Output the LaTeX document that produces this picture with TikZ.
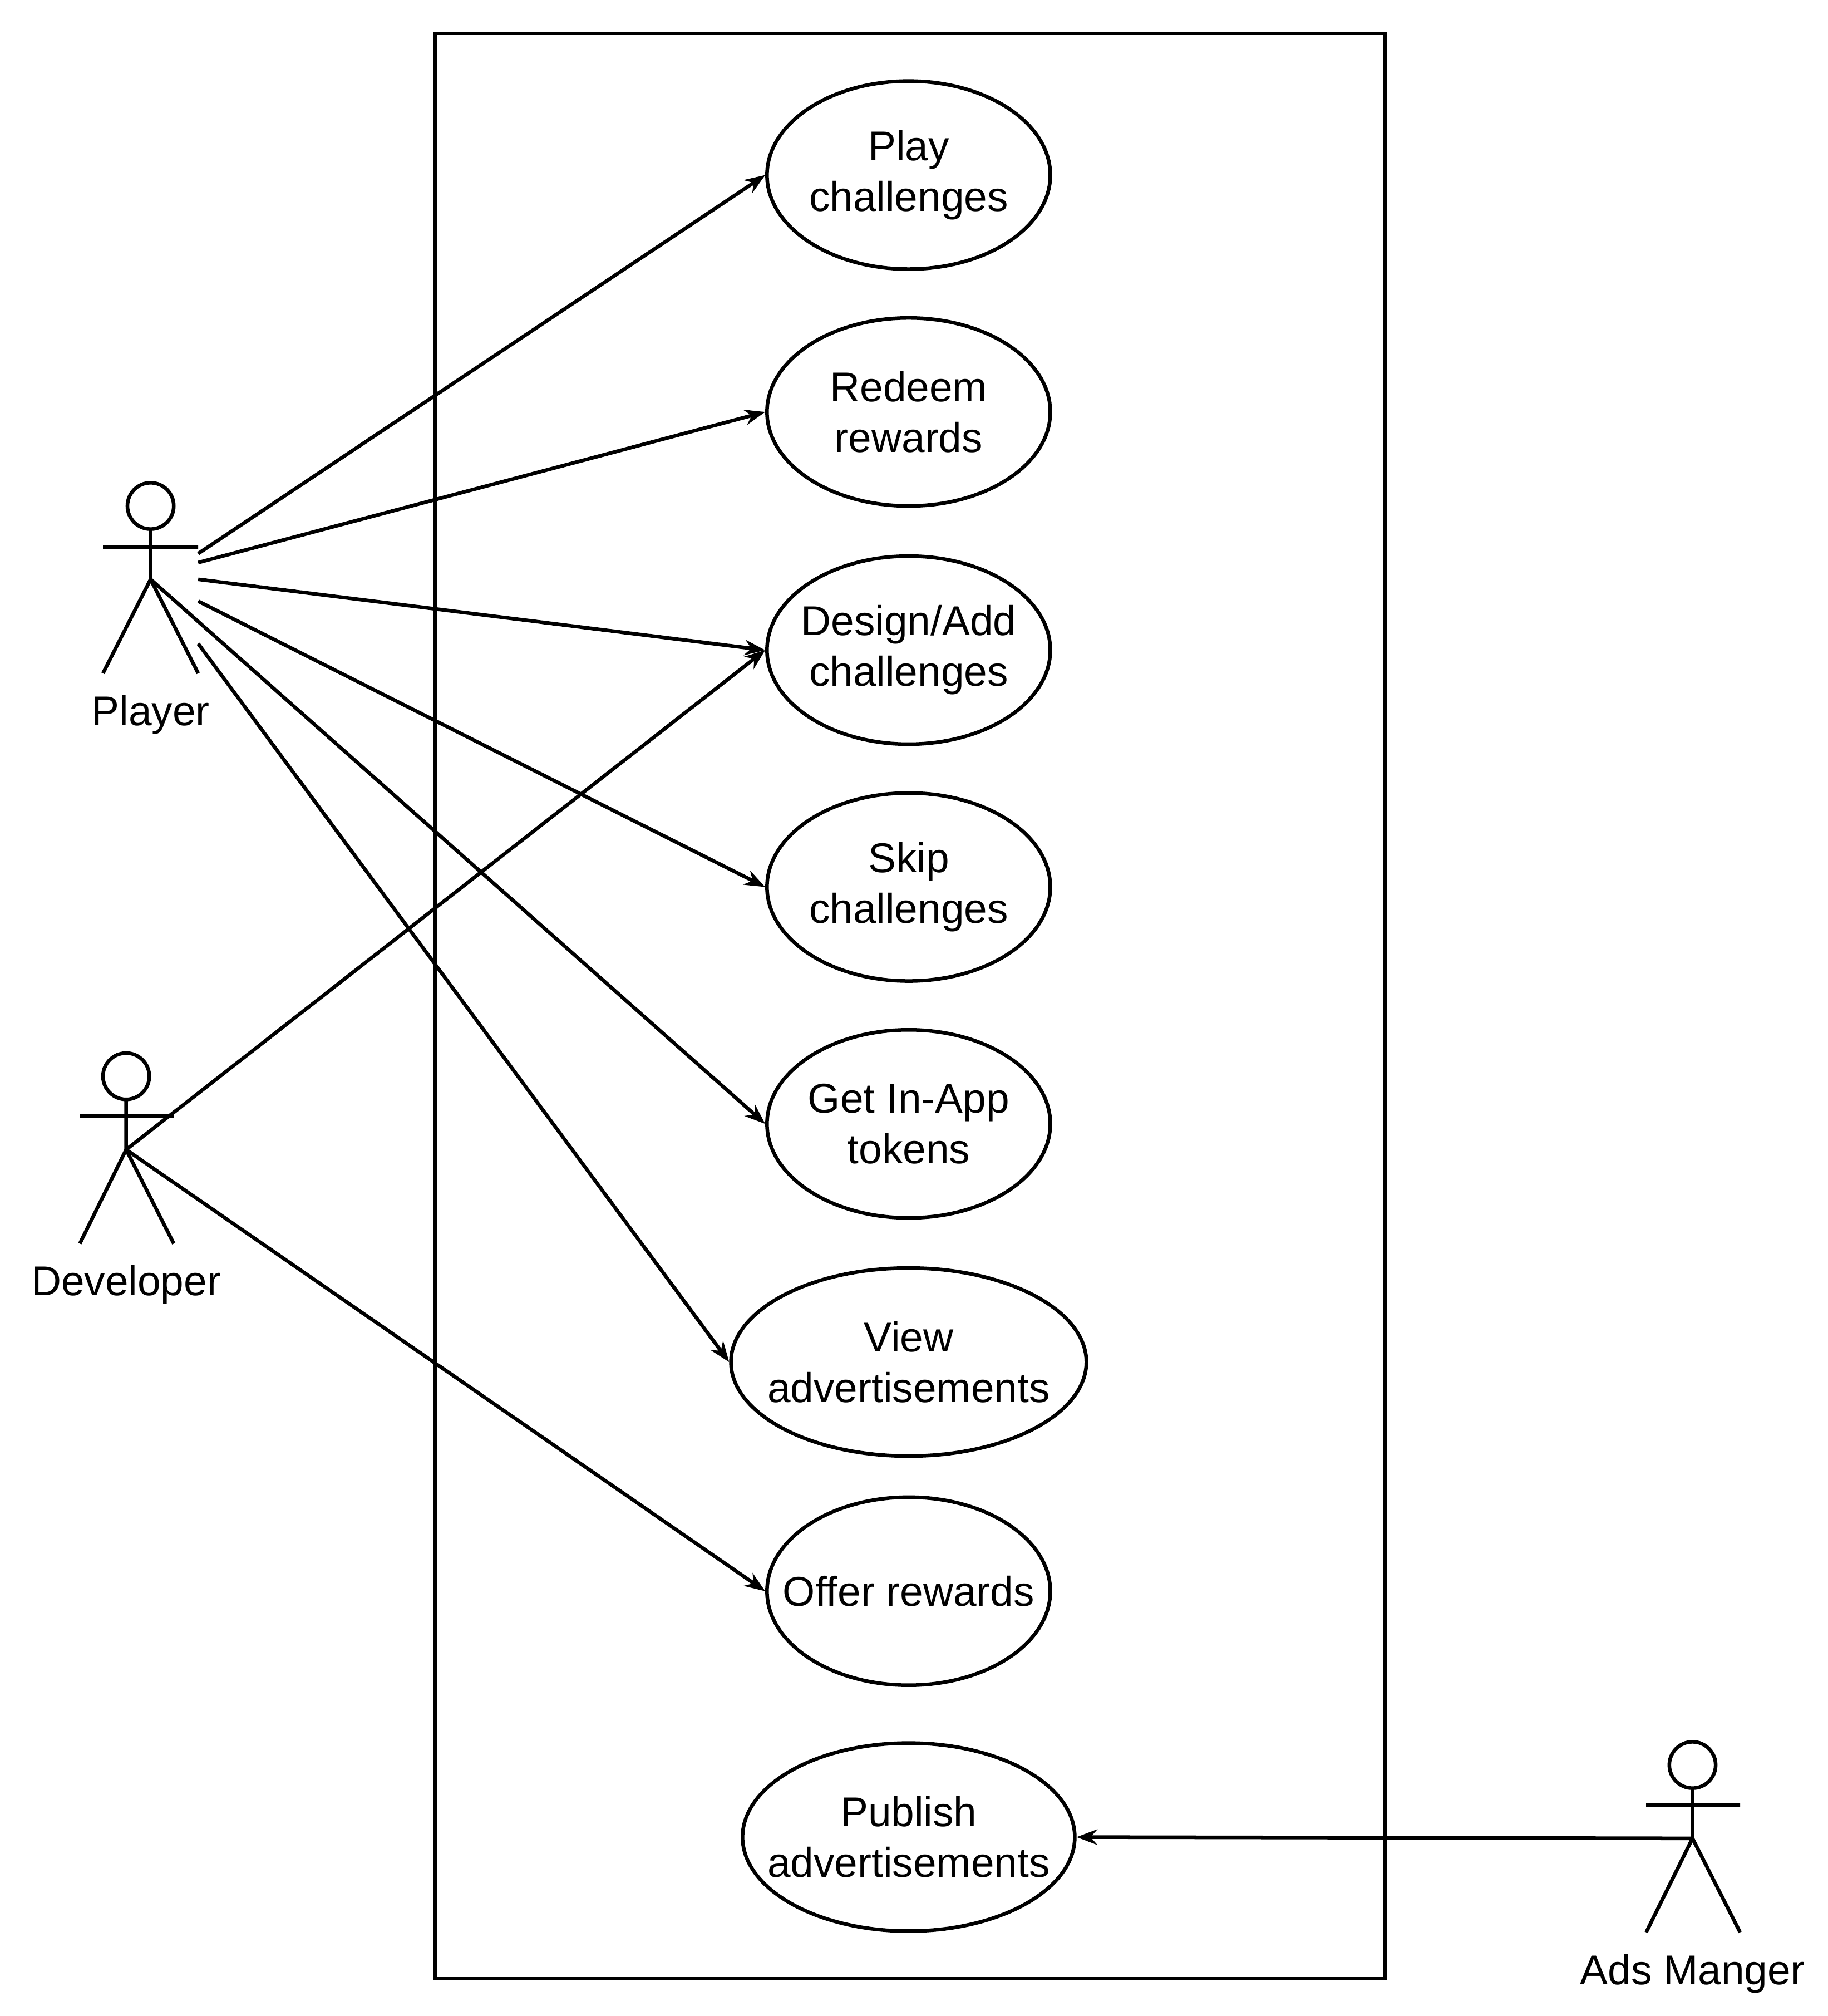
\documentclass[tikz,border=0pt]{standalone}
\usepackage{fontspec}
\setmainfont{Liberation Sans}
\usetikzlibrary{arrows.meta,positioning,shapes.geometric}
\begin{document}
\begin{tikzpicture}[x=0.01cm,y=-0.01cm,
  usecase/.style={ellipse,draw,thick,minimum width=2.2cm,minimum height=1.46cm,inner ysep=0pt,inner xsep=-0.5cm,align=center,font=\fontsize{9.2}{11.2}\selectfont},
  link/.style={-{Stealth[length=0.16cm,width=0.12cm]},thick},
  lbl/.style={font=\fontsize{9.2}{11.2}\selectfont}]
\useasboundingbox (0,0) rectangle (1420,1566);

% System boundary
\draw[thick] (338,26) rectangle (1076,1537);

% Use cases
\node[usecase] (play) at (706,136) {Play\\challenges};
\node[usecase] (redeem) at (706,320) {Redeem\\rewards};
\node[usecase] (design) at (706,505) {Design/Add\\challenges};
\node[usecase] (skip) at (706,689) {Skip\\challenges};
\node[usecase] (tokens) at (706,873) {Get In-App\\tokens};
\node[usecase,minimum width=2.76cm] (view) at (706,1058) {View\\advertisements};
\node[usecase] (offer) at (706,1236) {Offer rewards};
\node[usecase,minimum width=2.58cm] (publish) at (706,1427) {Publish\\advertisements};

% Actors
\draw[thick] (117,393) circle (18) (80,425) -- (154,425) (117,411) -- (117,450) (80,523) -- (117,450) -- (154,523);
\node[lbl] (player) at (117,555) {Player};
\draw[thick] (98,836) circle (18) (62,867) -- (135,867) (98,854) -- (98,893) (62,966) -- (98,893) -- (135,966);
\node[lbl] (developer) at (98,998) {Developer};
\draw[thick] (1315,1371) circle (18) (1279,1402) -- (1352,1402) (1315,1389) -- (1315,1428) (1279,1501) -- (1315,1428) -- (1352,1501);
\node[lbl] (adsmanager) at (1315,1533) {Ads Manger};

% Actor anchor points
\coordinate (p1) at (154,430);
\coordinate (p2) at (154,437);
\coordinate (p3) at (154,450);
\coordinate (p4) at (154,467);
\coordinate (p5) at (117,450);
\coordinate (p6) at (154,500);
\coordinate (d1) at (98,893);
\coordinate (a1) at (1315,1428);

% Associations
\draw[link] (p1) -- (play.west);
\draw[link] (p2) -- (redeem.west);
\draw[link] (p3) -- (design.west);
\draw[link] (p4) -- (skip.west);
\draw[link] (p5) -- (tokens.west);
\draw[link] (p6) -- (view.west);
\draw[link] (d1) -- (design.west);
\draw[link] (d1) -- (offer.west);
\draw[link] (a1) -- (publish.east);
\end{tikzpicture}
\end{document}
